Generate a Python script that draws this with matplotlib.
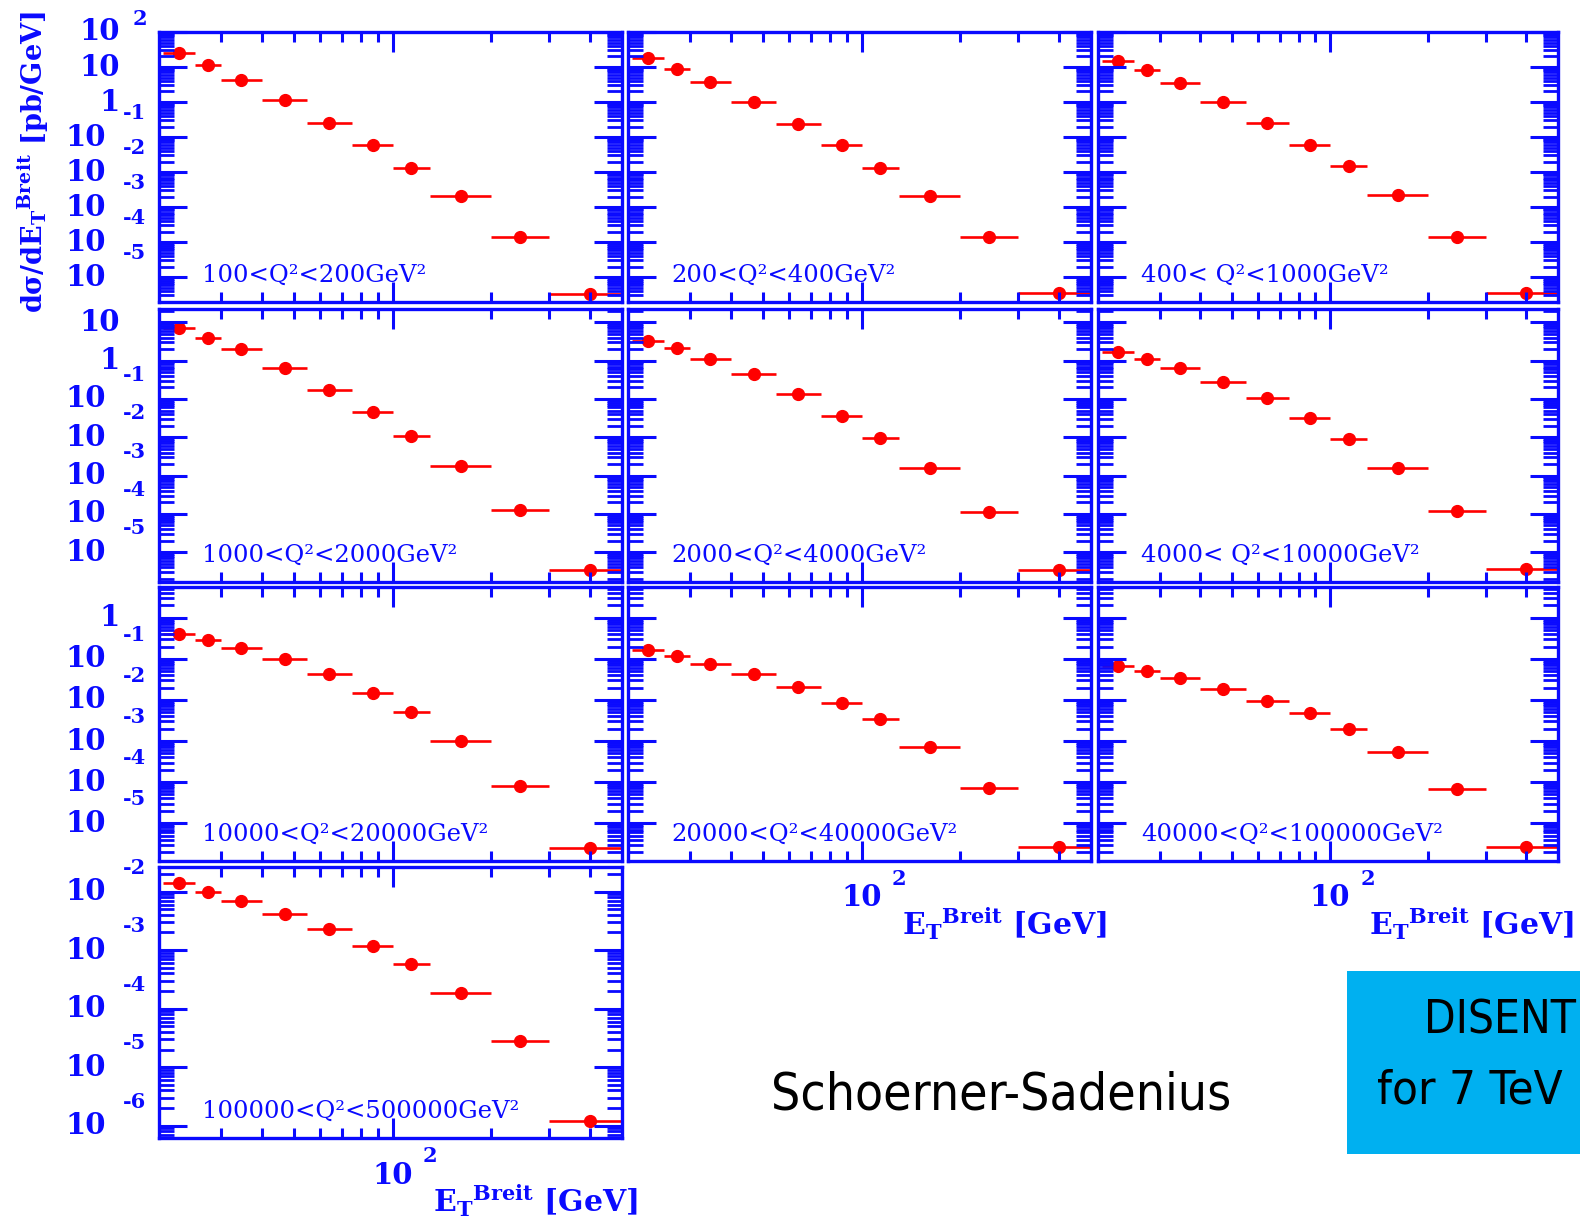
import math
import matplotlib
matplotlib.use("Agg")
import matplotlib.pyplot as plt
import matplotlib.transforms as mtransforms
from matplotlib.patches import Rectangle
from matplotlib.ticker import FixedLocator, LogLocator, NullFormatter

# E_T^Breit bins [GeV] and the point positions inside them
et_edges = [20, 25, 30, 40, 55, 75, 100, 130, 200, 300, 500]
et_centres = [22.4, 27.4, 34.6, 47, 64, 87, 114, 161, 245, 400]

q2_labels = ["100<Q²<200GeV²", "200<Q²<400GeV²", "400< Q²<1000GeV²",
             "1000<Q²<2000GeV²", "2000<Q²<4000GeV²", "4000< Q²<10000GeV²",
             "10000<Q²<20000GeV²", "20000<Q²<40000GeV²", "40000<Q²<100000GeV²",
             "100000<Q²<500000GeV²"]

# dsigma/dE_T [pb/GeV], one list per Q2 bin
xs_100 = [24.5, 11.4, 4.25, 1.14, 0.256, 0.058, 0.0135, 2.05e-3, 1.36e-4, 3.4e-6]
xs_200 = [17.8, 8.6, 3.7, 1.0, 0.24, 0.058, 0.0133, 2.05e-3, 1.36e-4, 3.6e-6]
xs_400 = [15.1, 8.2, 3.4, 1.02, 0.256, 0.059, 0.0148, 2.15e-3, 1.41e-4, 3.6e-6]
xs_1000 = [7.0, 3.84, 1.99, 0.66, 0.174, 0.0447, 0.011, 1.78e-3, 1.26e-4, 3.5e-6]
xs_2000 = [3.33, 2.11, 1.11, 0.44, 0.133, 0.0366, 9.8e-3, 1.62e-3, 1.15e-4, 3.5e-6]
xs_4000 = [1.66, 1.11, 0.656, 0.283, 0.105, 0.0324, 8.9e-3, 1.62e-3, 1.2e-4, 3.6e-6]
xs_10000 = [0.40, 0.286, 0.186, 0.099, 0.042, 0.015, 5.0e-3, 1.0e-3, 8.1e-5, 2.5e-6]
xs_20000 = [0.164, 0.119, 0.0746, 0.042, 0.0206, 8.5e-3, 3.4e-3, 7.2e-4, 7.2e-5, 2.6e-6]
xs_40000 = [0.068, 0.050, 0.0347, 0.019, 9.5e-3, 4.7e-3, 1.95e-3, 5.5e-4, 6.8e-5, 2.6e-6]
xs_100000 = [0.0138, 0.01, 6.9e-3, 4.2e-3, 2.3e-3, 1.17e-3, 5.7e-4, 1.86e-4, 2.8e-5, 1.2e-6]

all_xs = [xs_100, xs_200, xs_400, xs_1000, xs_2000, xs_4000,
          xs_10000, xs_20000, xs_40000, xs_100000]

# y range of each row, in decades
row_ylog = [(-5.71, 2.0), (-5.78, 1.35), (-5.92, 0.75), (-6.21, -1.58)]

W, H = 1580, 1223
BLUE = "#0a0aff"
RED = "#ff0000"

plt.rcParams['mathtext.fontset'] = 'custom'
plt.rcParams['mathtext.rm'] = 'DejaVu Serif:bold'
plt.rcParams['mathtext.bf'] = 'DejaVu Serif:bold'
plt.rcParams['mathtext.it'] = 'DejaVu Serif:bold'

fig = plt.figure(figsize=(W / 100, H / 100), dpi=100)


def fx(x):
    return x / W


def fy(y):
    return 1 - y / H


cols_px = [(159, 622), (628, 1091), (1098, 1558)]
rows_px = [(32, 302), (309, 582), (587, 861), (867, 1138)]

xerr_lo = [c - lo for c, lo in zip(et_centres, et_edges[:-1])]
xerr_hi = [hi - c for c, hi in zip(et_centres, et_edges[1:])]

axes = []
for i, xs in enumerate(all_xs):
    row, col = divmod(i, 3)
    l, r = cols_px[col]
    t, b = rows_px[row]
    ax = fig.add_axes([fx(l), fy(b), (r - l) / W, (b - t) / H])
    ax.errorbar(et_centres, xs, xerr=[xerr_lo, xerr_hi], fmt='o', color=RED,
                ms=8.5, elinewidth=1.9, capsize=0, zorder=1)
    ax.set_xscale('log')
    ax.set_yscale('log')
    ax.set_xlim(19.4, 500)
    ylo, yhi = row_ylog[row]
    ax.set_ylim(10 ** ylo, 10 ** yhi)

    ax.xaxis.set_major_locator(FixedLocator([100]))
    ax.xaxis.set_minor_locator(FixedLocator([30, 40, 50, 60, 70, 80, 90, 200, 300, 400]))
    ax.yaxis.set_major_locator(LogLocator(base=10, numticks=30))
    ax.yaxis.set_minor_locator(LogLocator(base=10, subs=range(2, 10), numticks=200))
    for a in (ax.xaxis, ax.yaxis):
        a.set_major_formatter(NullFormatter())
        a.set_minor_formatter(NullFormatter())

    ax.tick_params(which='both', direction='in', top=True, right=True, color=BLUE)
    ax.tick_params(axis='y', which='major', length=20, width=2.2)
    ax.tick_params(axis='y', which='minor', length=11, width=2.0)
    ax.tick_params(axis='x', which='major', length=14.5, width=2.2)
    ax.tick_params(axis='x', which='minor', length=7, width=2.2)
    for s in ax.spines.values():
        s.set_color(BLUE)
        s.set_linewidth(2.4)

    ax.text(0.093, 0.075, q2_labels[i], transform=ax.transAxes, fontsize=17.5,
            family='DejaVu Serif', color=BLUE, va='baseline', ha='left')
    axes.append(ax)

# ROOT-like decade labels on the left column
for row in range(4):
    ax = axes[row * 3]
    ylo, yhi = row_ylog[row]
    trans = mtransforms.blended_transform_factory(fig.transFigure, ax.transData)
    for n in range(math.ceil(ylo), math.floor(yhi) + 1):
        y = 10.0 ** n
        if n >= 0:
            base = "1" if n == 0 else "10"
            fig.text(fx(120), y, base, transform=trans, ha='right', va='center',
                     fontsize=21, fontweight='bold', family='DejaVu Serif', color=BLUE)
            if n >= 2:
                up = mtransforms.offset_copy(trans, fig=fig, y=13, units='dots')
                fig.text(fx(133), y, str(n), transform=up, ha='left', va='center',
                         fontsize=15, fontweight='bold', family='DejaVu Serif', color=BLUE)
        else:
            fig.text(fx(106), y, "10", transform=trans, ha='right', va='center',
                     fontsize=21, fontweight='bold', family='DejaVu Serif', color=BLUE)
            up = mtransforms.offset_copy(trans, fig=fig, y=24, units='dots')
            fig.text(fx(123), y, str(n), transform=up, ha='left', va='center',
                     fontsize=15, fontweight='bold', family='DejaVu Serif', color=BLUE)

# x labels under the lowest panel of each column
for ax, (l, r), bottom in [(axes[9], cols_px[0], rows_px[3][1]),
                           (axes[7], cols_px[1], rows_px[2][1]),
                           (axes[8], cols_px[2], rows_px[2][1])]:
    trans = mtransforms.blended_transform_factory(ax.transData, fig.transFigure)
    fig.text(100, fy(bottom + 37), "10", transform=trans, ha='center', va='center',
             fontsize=21, fontweight='bold', family='DejaVu Serif', color=BLUE)
    right = mtransforms.offset_copy(trans, fig=fig, x=30, units='dots')
    fig.text(100, fy(bottom + 18), "2", transform=right, ha='left', va='center',
             fontsize=15, fontweight='bold', family='DejaVu Serif', color=BLUE)
    fig.text(fx(r + 16), fy(bottom + 74), r"E$_\mathrm{T}{}^\mathrm{Breit}$ [GeV]",
             ha='right', va='baseline', fontsize=21.5, fontweight='bold',
             family='DejaVu Serif', color=BLUE)

fig.text(fx(33), fy(162), r"dσ/dE$_\mathrm{T}{}^\mathrm{Breit}$ [pb/GeV]",
         rotation=90, ha='center', va='center', fontsize=19.5, fontweight='bold',
         family='DejaVu Serif', color=BLUE)

fig.text(fx(1001), fy(1110), "Schoerner-Sadenius", ha='center', va='baseline',
         fontsize=37, family='DejaVu Sans', fontstretch='condensed', color='black')

fig.add_artist(Rectangle((fx(1347), fy(1154)), (W - 1347) / W + 0.01, (1154 - 971) / H,
                         transform=fig.transFigure, facecolor='#00b0f0', edgecolor='none'))
fig.text(fx(1576), fy(1033), "DISENT", ha='right', va='baseline', fontsize=33,
         family='DejaVu Sans', fontstretch='condensed', color='black')
fig.text(fx(1377), fy(1103), "for 7 TeV", ha='left', va='baseline', fontsize=34,
         family='DejaVu Sans', fontstretch='condensed', color='black')

fig.savefig("out.png", dpi=100)
